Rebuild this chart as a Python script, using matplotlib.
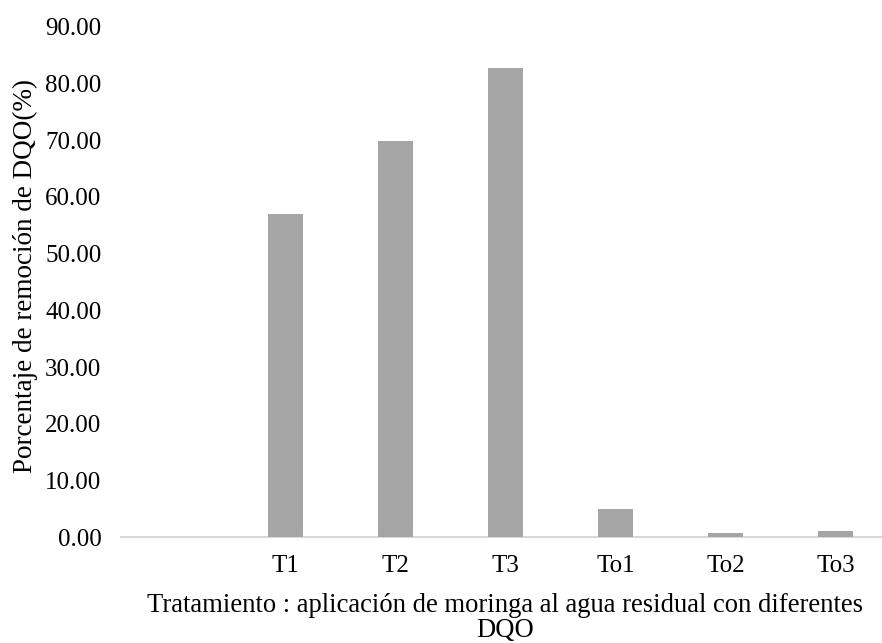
import numpy as np
import matplotlib
matplotlib.use("Agg")
import matplotlib.pyplot as plt

# removal of COD per treatment (first slot left empty)
tratamientos = ["", "T1", "T2", "T3", "To1", "To2", "To3"]
remocion = [0.0, 56.9, 69.8, 82.6, 5.0, 0.8, 1.05]
yticks = [0, 10, 20, 30, 40, 50, 60, 70, 80, 90]

plt.rcParams["font.family"] = ["Liberation Serif", "DejaVu Serif"]

fig = plt.figure(figsize=(8.82, 6.43), dpi=100)
ax = fig.add_axes([0.1369, 0.1644, 0.873, 0.7944])

x = np.arange(len(tratamientos))
ax.bar(x, remocion, width=0.32, color="#A5A5A5", zorder=3)

ax.set_xlim(-0.5, len(tratamientos) - 0.5)
ax.set_ylim(0, 90)
ax.set_yticks(yticks)
ax.set_yticklabels(["%.2f" % v for v in yticks])
ax.set_xticks(x)
ax.set_xticklabels(tratamientos)
ax.tick_params(axis="both", length=0, labelsize=18, colors="black")
ax.tick_params(axis="y", pad=14)
ax.tick_params(axis="x", pad=13)

for s in ["top", "right", "left"]:
    ax.spines[s].set_visible(False)
ax.spines["bottom"].set_color("#D9D9D9")
ax.spines["bottom"].set_linewidth(1.5)
ax.spines["bottom"].set_zorder(2)

fig.text(505 / 882, 1 - 618 / 643,
         "Tratamiento : aplicación de moringa al agua residual con diferentes\nDQO",
         ha="center", va="center", fontsize=19.2, linespacing=1.03)
fig.text(25 / 882, 1 - 276 / 643, "Porcentaje de remoción de DQO(%)",
         rotation=90, ha="center", va="center", fontsize=19.5)

fig.savefig("out.png", dpi=100)
